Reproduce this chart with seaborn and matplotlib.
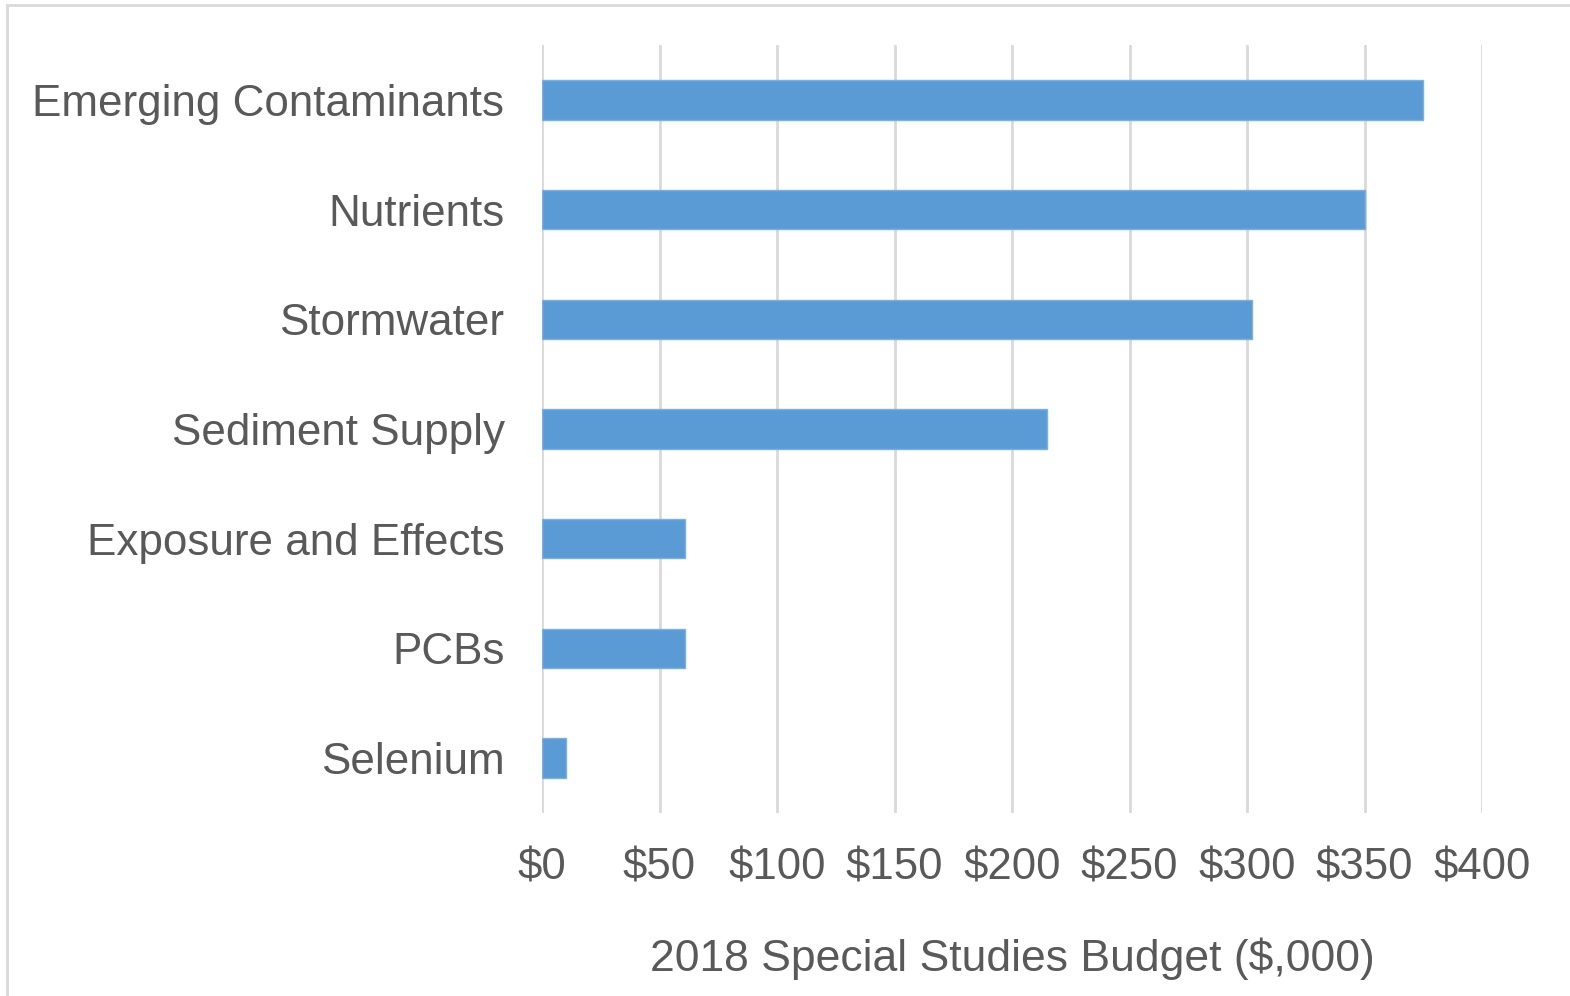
import pandas as pd
import matplotlib.pyplot as plt
import seaborn as sns
from matplotlib.patches import Rectangle

# =====================================================
# DATA
# =====================================================

categories = [
    "Emerging Contaminants",
    "Nutrients",
    "Stormwater",
    "Sediment Supply",
    "Exposure and Effects",
    "PCBs",
    "Selenium",
]

budget = [375, 350, 302, 215, 61, 61, 10]

x_ticks = [0, 50, 100, 150, 200, 250, 300, 350, 400]
x_tick_labels = ["$" + str(v) for v in x_ticks]

df = pd.DataFrame({"category": categories, "budget": budget})

# =====================================================
# STYLE
# =====================================================

sns.set_theme(style="white")
plt.rcParams["font.family"] = ["Liberation Sans", "DejaVu Sans"]

TEXT = "#595959"
GRID = "#D9D9D9"
BAR = "#5B9BD5"

# =====================================================
# PLOT
# =====================================================

fig = plt.figure(figsize=(15.7, 9.96), dpi=100)
ax = fig.add_axes([542 / 1570, 1 - 813 / 996, (1482 - 542) / 1570, (813 - 45) / 996])

sns.barplot(
    data=df,
    x="budget",
    y="category",
    orient="h",
    color=BAR,
    width=0.36,
    saturation=1,
    edgecolor="#7FB0DD",
    linewidth=1,
    ax=ax,
    zorder=3,
)

ax.set_xlim(0, 400)
ax.set_ylim(6.5, -0.5)
ax.set_xticks(x_ticks)
ax.set_xticklabels(x_tick_labels)

ax.xaxis.grid(True, color=GRID, linewidth=2)
ax.set_axisbelow(True)
for s in ax.spines.values():
    s.set_visible(False)

ax.tick_params(axis="x", length=0, pad=25, labelsize=31.5, labelcolor=TEXT)
ax.tick_params(axis="y", length=0, pad=27, labelsize=31.7, labelcolor=TEXT)

ax.set_ylabel("")
ax.set_xlabel("2018 Special Studies Budget ($,000)", fontsize=32, color=TEXT, labelpad=35)

# light chart border (cropped on right/bottom)
fig.patches.append(
    Rectangle(
        (7 / 1570, -0.1), 1.2, 1 - 5 / 996 + 0.1,
        transform=fig.transFigure, fill=False,
        edgecolor="#D9D9D9", linewidth=2, zorder=0,
    )
)

fig.savefig("out.png", dpi=100)
plt.close(fig)
